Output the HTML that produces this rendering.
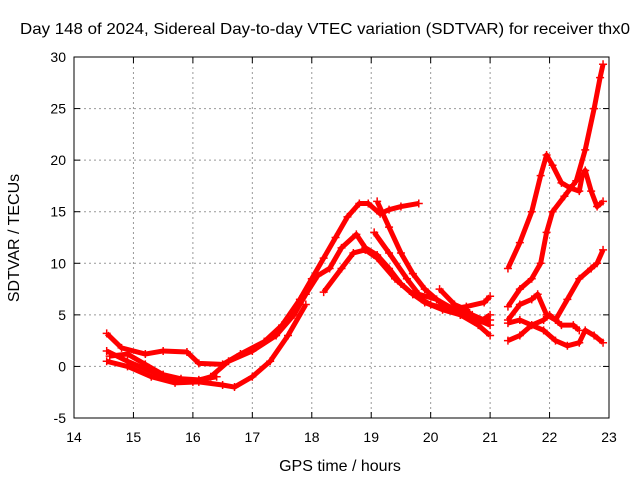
<!DOCTYPE html>
<html><head><meta charset="utf-8"><style>
body{margin:0;background:#fff}
svg text{font-family:"Liberation Sans",sans-serif;font-size:14px;fill:#000}
svg text.big{font-size:16px}
</style></head><body>
<svg id="chart" width="640" height="480" xmlns="http://www.w3.org/2000/svg">
<text class="big" x="20" y="34" textLength="610" lengthAdjust="spacingAndGlyphs">Day 148 of 2024, Sidereal Day-to-day VTEC variation (SDTVAR) for receiver thx0</text>
<text class="big" x="340" y="471" text-anchor="middle">GPS time / hours</text>
<text class="big" transform="translate(19,238) rotate(-90)" text-anchor="middle">SDTVAR / TECUs</text>
<g id="grid"></g><g id="ticks"></g><g id="series"></g>
<rect x="74" y="57" width="535" height="361" fill="none" stroke="#000" stroke-width="1"/>
</svg>
<script>
const xTicks=[14,15,16,17,18,19,20,21,22,23];
const yTicks=[-5,0,5,10,15,20,25,30];
const trackA=[[14.55,3.2],[14.8,1.8],[15.2,1.2],[15.5,1.5],[15.9,1.4],[16.1,0.3],[16.5,0.2],[16.8,1.2],[17.2,2.4],[17.5,4],[17.8,6.5],[18.0,8.5],[18.2,10.5],[18.4,12.5],[18.6,14.5],[18.8,15.8],[18.95,15.8],[19.15,14.8],[19.3,15.2],[19.5,15.5],[19.8,15.8]];
const trackB=[[14.55,1.5],[14.9,0.5],[15.3,-0.5],[15.6,-1.2],[16.0,-1.5],[16.3,-1],[16.6,0.5],[17.0,1.5],[17.4,3],[17.7,5],[17.9,7],[18.1,8.8],[18.3,9.5],[18.5,11.5],[18.75,12.8],[18.9,11.5],[19.1,10.8],[19.3,9.5],[19.5,8],[19.7,7],[19.9,6.2],[20.2,5.5],[20.5,5],[20.8,4.5],[21.0,4]];
const trackC=[[14.55,0.5],[14.9,0],[15.3,-1],[15.7,-1.6],[16.1,-1.5],[16.5,-1.8],[16.7,-2],[17.0,-1],[17.3,0.5],[17.6,3],[17.9,6]];
const trackD=[[18.2,7.2],[18.5,9.5],[18.7,11],[18.9,11.3],[19.1,10.5],[19.4,8.5],[19.7,7],[20.0,6],[20.3,5.5],[20.6,5.8],[20.9,6.2],[21.0,6.8]];
const trackE=[[19.1,16],[19.3,13.5],[19.5,11],[19.7,9],[19.9,7.5],[20.2,6],[20.5,5],[20.8,4],[21.0,3]];
const trackF=[[19.05,13],[19.3,11],[19.6,8.5],[19.8,7],[20.1,6.5],[20.4,5.5],[20.7,5],[20.9,4.5],[21.0,4.5]];
const trackG=[[20.15,7.5],[20.4,6],[20.6,5.5],[20.8,4.2],[21.0,5.0]];
const trackH=[[14.6,1.0],[14.9,1.2],[15.2,0.2],[15.5,-0.8],[15.8,-1.2],[16.1,-1.3],[16.4,-1.0]];
const trackR1=[[21.3,9.5],[21.5,12],[21.7,15],[21.85,18.5],[21.95,20.5],[22.05,19.5],[22.2,17.8],[22.35,17.3],[22.5,17],[22.55,18.5],[22.6,19],[22.7,17],[22.8,15.5],[22.9,16]];
const trackR2=[[21.3,5.8],[21.5,7.5],[21.7,8.5],[21.85,10],[21.95,13],[22.05,15],[22.25,16.5],[22.45,18],[22.6,21],[22.75,25],[22.85,28],[22.9,29.3]];
const trackR3=[[21.3,4.5],[21.5,6],[21.7,6.5],[21.8,7],[21.95,5],[22.1,4.5],[22.3,6.5],[22.5,8.5],[22.7,9.5],[22.8,10],[22.9,11.3]];
const trackR4=[[21.3,4.2],[21.5,4.5],[21.7,4],[21.9,4.5],[22.0,5],[22.2,4.0],[22.4,4],[22.5,3.5]];
const trackR5=[[21.3,2.5],[21.5,3],[21.7,4],[21.9,3.5],[22.1,2.5],[22.3,2],[22.5,2.3],[22.6,3.5],[22.75,3],[22.9,2.3]];
const tracks=[trackA,trackB,trackC,trackD,trackE,trackF,trackG,trackH,trackR1,trackR2,trackR3,trackR4,trackR5];
const X0=74,X1=609,Y0=418,Y1=57;
const xs=v=>X0+(v-14)/(23-14)*(X1-X0);
const ys=v=>Y0-(v+5)/35*(Y0-Y1);
const NS="http://www.w3.org/2000/svg";
function mk(t,a,p){const e=document.createElementNS(NS,t);for(const k in a)e.setAttribute(k,a[k]);p.appendChild(e);return e;}
const grid=document.getElementById('grid'),ticks=document.getElementById('ticks'),ser=document.getElementById('series');
xTicks.forEach(t=>{const x=xs(t);
 if(t>14&&t<23){const g=mk('line',{x1:x,x2:x,y1:Y1,y2:Y0,stroke:'#999','stroke-dasharray':'2,3'},grid);
 }
 mk('line',{x1:x,x2:x,y1:Y0,y2:Y0-6,stroke:'#000'},ticks);mk('line',{x1:x,x2:x,y1:Y1,y2:Y1+6,stroke:'#000'},ticks);
 const tx=mk('text',{x:x,y:Y0+24,'text-anchor':'middle'},ticks);tx.textContent=t;
 });
yTicks.forEach(t=>{const y=ys(t);
 if(t>-5&&t<30){const g=mk('line',{x1:X0,x2:X1,y1:y,y2:y,stroke:'#999','stroke-dasharray':'2,3'},grid);
 }
 mk('line',{x1:X0,x2:X0+6,y1:y,y2:y,stroke:'#000'},ticks);mk('line',{x1:X1,x2:X1-6,y1:y,y2:y,stroke:'#000'},ticks);
 const tx=mk('text',{x:X0-8,y:y+5,'text-anchor':'end'},ticks);tx.textContent=t;
 });
tracks.forEach(tr=>{
 const pl=mk('polyline',{points:tr.map(p=>xs(p[0])+','+ys(p[1])).join(' '),fill:'none',stroke:'#f00','stroke-width':5,'stroke-linejoin':'round'},ser);
 
 tr.forEach(p=>{const x=xs(p[0]),y=ys(p[1]);
  const m=mk('path',{d:`M${x-4},${y}H${x+4}M${x},${y-4}V${y+4}`,stroke:'#f00','stroke-width':1.5},ser);
  });
});
</script>
</body></html>
